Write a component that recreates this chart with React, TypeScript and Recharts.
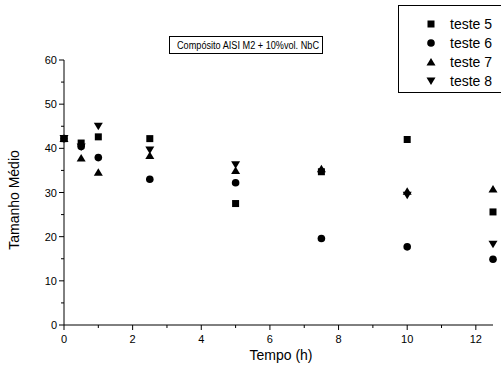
import { ScatterChart, Scatter, XAxis, YAxis } from 'recharts';

const times = [0, 0.5, 1, 2.5, 5, 7.5, 10, 12.5];
const teste5 = [42.2, 41.2, 42.6, 42.2, 27.5, 34.7, 42, 25.6];
const teste6 = [42.2, 40.4, 37.9, 33, 32.2, 19.6, 17.7, 14.9];
const teste7 = [42.2, 37.8, 34.6, 38.4, 35, 35.4, 30.3, 30.8];
const teste8 = [42.2, 40.3, 45, 39.6, 36.3, null, 29.4, 18.3];

const xTicks = [0, 1, 2, 3, 4, 5, 6, 7, 8, 9, 10, 11, 12];
const yTicks = [0, 5, 10, 15, 20, 25, 30, 35, 40, 45, 50, 55, 60];

const series = [
  { name: 'teste 5', shape: 'square', values: teste5 },
  { name: 'teste 6', shape: 'circle', values: teste6 },
  { name: 'teste 7', shape: 'up', values: teste7 },
  { name: 'teste 8', shape: 'down', values: teste8 },
];

const toRows = (values: (number | null)[]) =>
  times.map((t, i) => ({ t, v: values[i] })).filter((r) => r.v !== null);

const FONT = '"Liberation Sans", Arial, sans-serif';

function Marker({ cx, cy, kind }: { cx: number; cy: number; kind: string }) {
  switch (kind) {
    case 'square':
      return <rect x={cx - 3.5} y={cy - 3.5} width={7} height={7} fill="#000" />;
    case 'circle':
      return <circle cx={cx} cy={cy} r={3.8} fill="#000" />;
    case 'up':
      return <polygon points={`${cx - 4.5},${cy + 3.5} ${cx + 4.5},${cy + 3.5} ${cx},${cy - 4}`} fill="#000" />;
    default:
      return <polygon points={`${cx - 4.5},${cy - 3.5} ${cx + 4.5},${cy - 3.5} ${cx},${cy + 4}`} fill="#000" />;
  }
}

const XTick = (props: any) => {
  const { x, y, payload } = props;
  const major = payload.value % 2 === 0;
  return (
    <g>
      <line x1={x} x2={x} y1={y} y2={y + (major ? 5 : 3)} stroke="#000" />
      {major && (
        <text x={x} y={y + 18} textAnchor="middle" fontSize={11} fontFamily={FONT} fill="#000">
          {payload.value}
        </text>
      )}
    </g>
  );
};

const YTick = (props: any) => {
  const { x, y, payload } = props;
  const major = payload.value % 10 === 0;
  return (
    <g>
      <line x1={x} x2={x - (major ? 5 : 3)} y1={y} y2={y} stroke="#000" />
      {major && (
        <text x={x - 7} y={y + 4} textAnchor="end" fontSize={11} fontFamily={FONT} fill="#000">
          {payload.value}
        </text>
      )}
    </g>
  );
};

export default function App() {
  return (
    <div style={{ position: 'absolute', left: 0, top: 0, width: 501, height: 368, background: '#fff' }}>
      <ScatterChart width={501} height={368} margin={{ top: 60, right: 8, bottom: 0, left: 0 }}>
        <XAxis
          type="number"
          dataKey="t"
          domain={[0, 12.5]}
          ticks={xTicks}
          height={43}
          stroke="#000"
          tickSize={0}
          tickMargin={0}
          tickLine={false}
          tick={<XTick />}
          interval={0}
        />
        <YAxis
          type="number"
          dataKey="v"
          domain={[0, 60]}
          ticks={yTicks}
          width={64}
          stroke="#000"
          tickSize={0}
          tickMargin={0}
          tickLine={false}
          tick={<YTick />}
          interval={0}
        />
        {series.map((s) => (
          <Scatter
            key={s.name}
            name={s.name}
            data={toRows(s.values)}
            isAnimationActive={false}
            shape={(p: any) => <Marker cx={p.cx} cy={p.cy} kind={s.shape} />}
          />
        ))}
      </ScatterChart>

      <svg width={501} height={368} style={{ position: 'absolute', left: 0, top: 0, pointerEvents: 'none' }}>
        {/* title box */}
        <rect x={169.5} y={36.5} width={153} height={17} fill="#fff" stroke="#000" />
        <text
          x={177}
          y={49}
          fontSize={10}
          fontFamily={FONT}
          textLength={142}
          lengthAdjust="spacingAndGlyphs"
          fill="#000"
        >
          Compósito AISI M2 + 10%vol. NbC
        </text>

        {/* legend */}
        <rect x={398.5} y={5.5} width={110} height={87} fill="#fff" stroke="#000" />
        {series.map((s, i) => (
          <g key={s.name}>
            <Marker cx={431} cy={24 + i * 19} kind={s.shape} />
            <text x={450} y={29 + i * 19} fontSize={14} fontFamily={FONT} fill="#000">
              {s.name}
            </text>
          </g>
        ))}

        {/* axis titles */}
        <text x={281} y={360} textAnchor="middle" fontSize={14} fontFamily={FONT} fill="#000">
          Tempo (h)
        </text>
        <text
          x={0}
          y={0}
          transform="translate(19,200) rotate(-90)"
          textAnchor="middle"
          fontSize={14}
          fontFamily={FONT}
          fill="#000"
        >
          Tamanho Médio
        </text>
      </svg>
    </div>
  );
}
